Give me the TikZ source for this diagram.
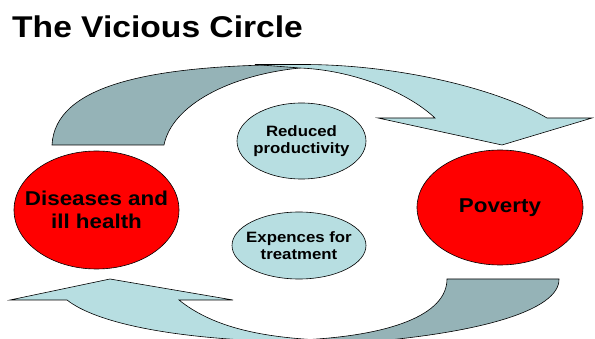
\documentclass[tikz,border=0pt]{standalone}
\usepackage{fontspec}
\setmainfont[FakeStretch=1.12]{Liberation Sans}
\usetikzlibrary{shapes.geometric}
\definecolor{arrowlight}{RGB}{183,222,225}
\definecolor{arrowdark}{RGB}{149,179,183}
\definecolor{cyclered}{RGB}{255,0,0}
\tikzset{
  arrowpart/.style={draw=black, line width=0.6pt, line join=miter},
  bigellipse/.style={ellipse, draw=black, line width=0.6pt, fill=cyclered, inner sep=0pt},
  smallellipse/.style={ellipse, draw=black, line width=0.6pt, fill=arrowlight, inner sep=0pt},
  bigtext/.style={inner sep=0pt, align=center, font=\fontsize{20}{23}\selectfont\bfseries},
  smalltext/.style={inner sep=0pt, align=center, font=\fontsize{15}{17.5}\selectfont\bfseries},
  titletext/.style={anchor=base west, inner sep=0pt, font=\fontsize{30}{34}\selectfont\bfseries}
}
\begin{document}
\begin{tikzpicture}[x=1pt,y=-1pt]
\path[use as bounding box] (0,0) rectangle (595,339);
\begin{scope}
\clip (0,0) rectangle (595,339);
% top curved arrow: back (dark) part
\path[arrowpart, fill=arrowdark] (52,145) -- (164,145) .. controls (172,105) and (230,75) .. (300,68)
  -- (300,64.5) .. controls (150,65) and (55,85) .. (52,145) -- cycle;
% top curved arrow: front (light) part with head
\path[arrowpart, fill=arrowlight] (255,64.5) -- (300,64.5) .. controls (400,64) and (500,90) .. (547,118)
  -- (592,118) -- (502,145) -- (378,118) -- (435,118) .. controls (405,90) and (350,70) .. (300,68) -- cycle;
% bottom curved arrow: front (light) part with head
\path[arrowpart, fill=arrowlight] (67,300) -- (10,300) -- (110,279) -- (233,300) -- (179,300)
  .. controls (210,325) and (255,337) .. (320,340) -- (340,352) -- (300,352) -- (300,342)
  .. controls (170,340) and (95,322) .. (67,300) -- cycle;
% bottom curved arrow: back (dark) part
\path[arrowpart, fill=arrowdark] (447,279) -- (559,279) .. controls (560,310) and (480,335) .. (340,344)
  -- (340,352) -- (300,352) -- (300,340) .. controls (390,336) and (447,315) .. (447,279) -- cycle;
\end{scope}
% title
\node[titletext] (title) at (12,38) {The Vicious Circle};
% ellipses
\node[bigellipse, minimum width=165pt, minimum height=118pt] (ill) at (96.5,210) {};
\node[bigtext] (illtext) at (ill.center) {Diseases and\\ill health};
\node[bigellipse, minimum width=166pt, minimum height=115pt] (pov) at (500,207.5) {};
\node[bigtext] (povtext) at (pov.center) {Poverty};
\node[smallellipse, minimum width=129pt, minimum height=76pt] (prod) at (301.5,141) {};
\node[smalltext] (prodtext) at (prod.center) {Reduced\\productivity};
\node[smallellipse, minimum width=134pt, minimum height=67pt] (exp) at (299,245.5) {};
\node[smalltext] (exptext) at (exp.center) {Expences for\\treatment};
\end{tikzpicture}
\end{document}
